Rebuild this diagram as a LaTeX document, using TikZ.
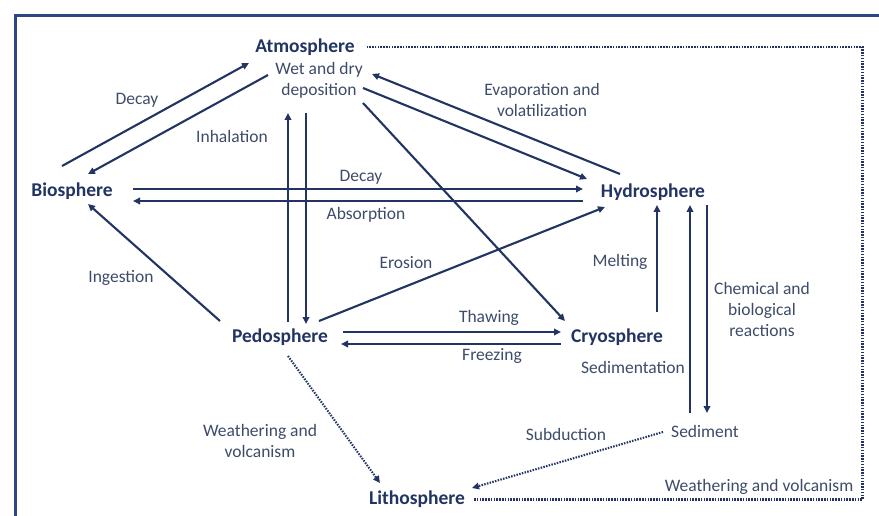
\documentclass[tikz,border=0pt]{standalone}
\usepackage{fontspec}
\setmainfont{Carlito}
\usetikzlibrary{arrows.meta}
\definecolor{navy}{RGB}{33,52,98}
\definecolor{framec}{RGB}{44,70,130}
\definecolor{lbl}{RGB}{62,76,104}
\tikzset{
  sphere/.style={font=\fontsize{19.5}{22}\selectfont\bfseries, text=navy, inner sep=0pt},
  lab/.style={font=\fontsize{17.5}{21}\selectfont, text=lbl, inner sep=0pt, align=center},
  conn/.style={draw=navy, line width=2.1pt},
  arr/.style={conn, -{Triangle[length=7pt,width=6.5pt]}},
  dots/.style={draw=navy, line width=2.1pt, dash pattern=on 1.5pt off 1.3pt},
  darr/.style={dots, -{Triangle[length=7pt,width=6.5pt]}},
}
\begin{document}
\begin{tikzpicture}[x=1pt,y=-1pt]
\useasboundingbox (0,0) rectangle (879,516);
\fill[white] (0,0) rectangle (879,516);
% frame (top and left edges)
\draw[framec, line width=3pt] (15.5,516) -- (15.5,15.5) -- (879,15.5);

% sphere nodes
\node[sphere] (atm) at (305,47) {Atmosphere};
\node[lab] (wet) at (319,80.5) {Wet and dry\\deposition};
\node[sphere] (bio) at (72,191) {Biosphere};
\node[sphere] (hyd) at (653,192) {Hydrosphere};
\node[sphere] (ped) at (280,337) {Pedosphere};
\node[sphere] (cry) at (617,337) {Cryosphere};
\node[sphere] (lit) at (417,499) {Lithosphere};
\node[lab] (sed) at (705,431) {Sediment};

% labels
\node[lab] (lDecayA) at (137,100) {Decay};
\node[lab] (lInh) at (232,136) {Inhalation};
\node[lab] (lDecayB) at (361,177) {Decay};
\node[lab] (lAbs) at (366,215) {Absorption};
\node[lab] (lEvap) at (542,100) {Evaporation and\\volatilization};
\node[lab] (lEro) at (406,263) {Erosion};
\node[lab] (lIng) at (121,278) {Ingestion};
\node[lab] (lWeaA) at (260,440.5) {Weathering and\\volcanism};
\node[lab] (lThaw) at (489,318) {Thawing};
\node[lab] (lFree) at (492,356) {Freezing};
\node[lab] (lMelt) at (620,262) {Melting};
\node[lab] (lSedi) at (633,367) {Sedimentation};
\node[lab] (lChem) at (762,309.5) {Chemical and\\biological\\reactions};
\node[lab] (lSub) at (566,434) {Subduction};
\node[lab] (lWeaB) at (759,487) {Weathering and volcanism};

% connector end points
\coordinate (bioA) at (62,166);
\coordinate (atmA) at (249,63);
\coordinate (atmB) at (268,75);
\coordinate (bioB) at (88,174);
\coordinate (bioE1) at (133,189);
\coordinate (hydW1) at (583,189);
\coordinate (hydW2) at (583,201);
\coordinate (bioE2) at (133,201);
\coordinate (pedN1) at (288,322);
\coordinate (atmS1) at (288,113);
\coordinate (atmS2) at (306,113);
\coordinate (pedN2) at (306,324);
\coordinate (depE) at (363,88);
\coordinate (hydNW) at (587,179);
\coordinate (hydN) at (620,174);
\coordinate (wetE) at (372,74);
\coordinate (depS) at (363,103);
\coordinate (cryNW) at (565,321);
\coordinate (pedNE) at (319,321);
\coordinate (hydSW) at (605,207);
\coordinate (pedNW) at (220,321);
\coordinate (bioS) at (88,204);
\coordinate (pedE1) at (343,332);
\coordinate (cryW1) at (561,332);
\coordinate (cryW2) at (561,344);
\coordinate (pedE2) at (341,344);
\coordinate (cryN) at (657,312);
\coordinate (hydS1) at (657,205);
\coordinate (sedN1) at (690,413);
\coordinate (hydS2) at (690,205);
\coordinate (hydS3) at (707,205);
\coordinate (sedN2) at (707,413);
\coordinate (pedS) at (288,356);
\coordinate (litN) at (380,483);
\coordinate (sedW) at (663,432);
\coordinate (litNE) at (472,488);
\coordinate (litE) at (474,499.5);
\coordinate (cSE) at (862.5,499.5);
\coordinate (cNE) at (862.5,47);
\coordinate (atmE) at (367,47);

% solid connectors
\draw[arr] (bioA) -- (atmA);
\draw[arr] (atmB) -- (bioB);
\draw[arr] (bioE1) -- (hydW1);
\draw[arr] (hydW2) -- (bioE2);
\draw[arr] (pedN1) -- (atmS1);
\draw[arr] (atmS2) -- (pedN2);
\draw[arr] (depE) -- (hydNW);
\draw[arr] (hydN) -- (wetE);
\draw[arr] (depS) -- (cryNW);
\draw[arr] (pedNE) -- (hydSW);
\draw[arr] (pedNW) -- (bioS);
\draw[arr] (pedE1) -- (cryW1);
\draw[arr] (cryW2) -- (pedE2);
\draw[arr] (cryN) -- (hydS1);
\draw[arr] (sedN1) -- (hydS2);
\draw[arr] (hydS3) -- (sedN2);

% dotted connectors
\draw[darr] (pedS) -- (litN);
\draw[darr] (sedW) -- (litNE);
\draw[dots] (litE) -- (cSE) -- (cNE) -- (atmE);
\end{tikzpicture}
\end{document}
